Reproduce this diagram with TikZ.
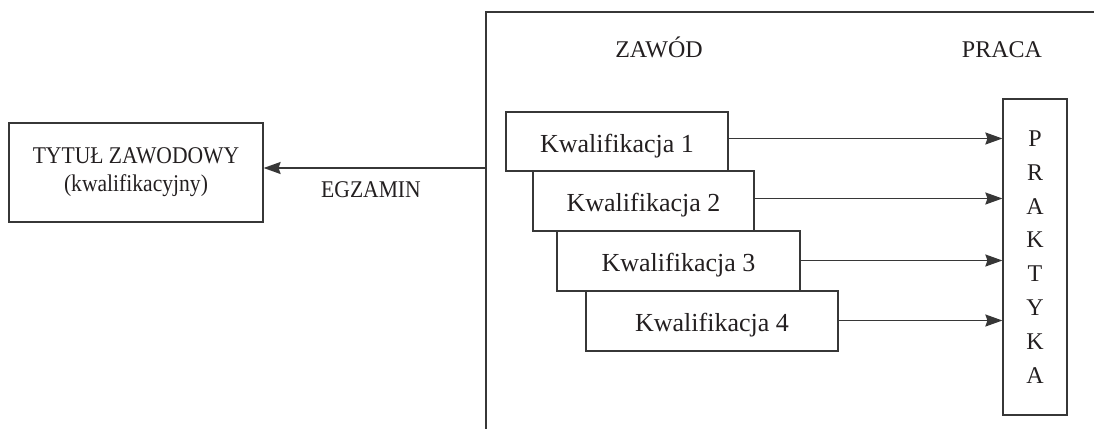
\documentclass[tikz,border=0pt]{standalone}
\usepackage{fontspec}
\setmainfont{Liberation Serif}
\newfontfamily\capsfont[FakeStretch=0.9]{Liberation Serif}
\usetikzlibrary{arrows.meta}
\definecolor{linec}{RGB}{55,55,55}
\definecolor{textc}{RGB}{35,31,32}
\tikzset{
  capstext/.style={font=\capsfont\fontsize{12pt}{13.5pt}\selectfont, text=textc, inner sep=0pt},
  headtext/.style={font=\fontsize{12pt}{13.5pt}\selectfont, text=textc, inner sep=0pt},
  kbox/.style={draw=linec, line width=0.6pt, fill=white, inner sep=0pt,
    font=\fontsize{13pt}{15pt}\selectfont, text=textc, text height=10.5pt, text depth=0pt},
  plainbox/.style={draw=linec, line width=0.6pt, inner sep=0pt, text=textc},
  arr/.style={draw=linec, line width=0.8pt, -{Stealth[length=8.5pt,width=6pt,inset=1pt]}},
  frame/.style={draw=linec, line width=0.7pt}
}
\begin{document}
\begin{tikzpicture}[x=0.5pt,y=-0.5pt]
\useasboundingbox (0,0) rectangle (1094,429);
% frame
\coordinate (fbot) at (486,429);
\coordinate (ftop) at (486,12);
\coordinate (fright) at (1094,12);
\draw[frame] (fbot) -- (ftop) -- (fright);
% headings
\node[headtext, anchor=base] (zawod) at (659,57) {ZAWÓD};
\node[headtext, anchor=base] (praca) at (1002,57) {PRACA};
% left box
\node[plainbox, minimum width=127pt, minimum height=49.5pt, align=center,
  font=\capsfont\fontsize{12pt}{14pt}\selectfont] (tytul) at (136,172.5)
  {TYTUŁ ZAWODOWY\\(kwalifikacyjny)};
% egzamin arrow
\coordinate (fe) at (486,168);
\draw[arr] (fe) -- (fe -| tytul.east);
\node[capstext, anchor=base] (egz) at (371,197) {EGZAMIN};
% qualification boxes
\node[kbox, minimum width=111pt, minimum height=29.5pt] (k1) at (617,141.5) {Kwalifikacja 1};
\node[kbox, minimum width=110.5pt, minimum height=30pt] (k2) at (643.5,201) {Kwalifikacja 2};
\node[kbox, minimum width=121.5pt, minimum height=30pt] (k3) at (678.5,261) {Kwalifikacja 3};
\node[kbox, minimum width=126pt, minimum height=30pt] (k4) at (712,321) {Kwalifikacja 4};
% praktyka
\node[plainbox, minimum width=32pt, minimum height=158pt, align=center,
  font=\fontsize{12pt}{16.9pt}\selectfont] (prak) at (1035,257)
  {P\\R\\A\\K\\T\\Y\\K\\A};
% arrows to praktyka
\draw[arr] ([yshift=1.5pt]k1.east) -- ([yshift=1.5pt]k1.east -| prak.west);
\draw[arr] ([yshift=1.25pt]k2.east) -- ([yshift=1.25pt]k2.east -| prak.west);
\draw[arr] ([yshift=0.25pt]k3.east) -- ([yshift=0.25pt]k3.east -| prak.west);
\draw[arr] ([yshift=0.25pt]k4.east) -- ([yshift=0.25pt]k4.east -| prak.west);
\end{tikzpicture}
\end{document}
